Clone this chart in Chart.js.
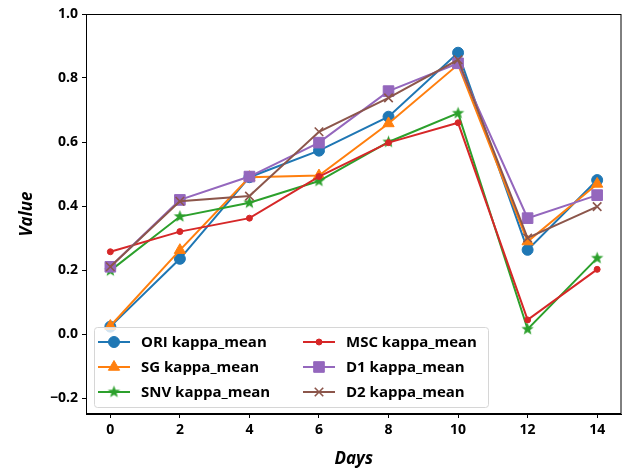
<!DOCTYPE html>
<html>
<head>
<meta charset="utf-8">
<script src="https://cdn.jsdelivr.net/npm/chart.js@4.4.1/dist/chart.umd.min.js"></script>
<style>
  html, body { margin: 0; padding: 0; background: #fff; }
  #wrap { width: 630px; height: 472px; }
</style>
</head>
<body>
<div id="wrap"><canvas id="myChart" width="630" height="472"></canvas></div>
<script>
// data
const DAYS = [0, 2, 4, 6, 8, 10, 12, 14];
const X_TICKS = [0, 2, 4, 6, 8, 10, 12, 14];
const Y_TICKS = [-0.2, 0, 0.2, 0.4, 0.6, 0.8, 1.0];
const SERIES_NAMES = ['ORI kappa_mean', 'SG kappa_mean', 'SNV kappa_mean', 'MSC kappa_mean', 'D1 kappa_mean', 'D2 kappa_mean'];
const ORI = [0.023, 0.235, 0.49, 0.573, 0.679, 0.879, 0.263, 0.481];
const SG = [0.025, 0.262, 0.49, 0.495, 0.658, 0.842, 0.289, 0.469];
const SNV = [0.198, 0.367, 0.41, 0.478, 0.6, 0.69, 0.015, 0.237];
const MSC = [0.257, 0.32, 0.362, 0.492, 0.598, 0.66, 0.044, 0.202];
const D1 = [0.21, 0.419, 0.492, 0.598, 0.759, 0.846, 0.362, 0.434];
const D2 = [0.21, 0.415, 0.431, 0.632, 0.738, 0.857, 0.3, 0.398];

const COLORS = ['#1f77b4', '#ff7f0e', '#2ca02c', '#d62728', '#9467bd', '#8c564b'];
const FONT = '"Open Sans", "DejaVu Sans", sans-serif';

// filled star marker like matplotlib '*'
function makeStar(color, r) {
  const c = document.createElement('canvas');
  const s = Math.ceil(r * 2 + 2);
  c.width = s; c.height = s;
  const g = c.getContext('2d');
  g.beginPath();
  for (let i = 0; i < 10; i++) {
    const rad = i % 2 === 0 ? r : r * 0.42;
    const a = -Math.PI / 2 + i * Math.PI / 5;
    const px = s / 2 + rad * Math.cos(a);
    const py = s / 2 + rad * Math.sin(a);
    if (i === 0) g.moveTo(px, py); else g.lineTo(px, py);
  }
  g.closePath();
  g.fillStyle = color;
  g.fill();
  return c;
}
const STAR = makeStar(COLORS[2], 6.5);

const MARKERS = [
  { pointStyle: 'circle', radius: 5.5, borderWidth: 1 },
  { pointStyle: 'triangle', radius: 6.5, borderWidth: 1 },
  { pointStyle: STAR, radius: 6.5, borderWidth: 0 },
  { pointStyle: 'circle', radius: 3, borderWidth: 1 },
  { pointStyle: 'rect', radius: 7.5, borderWidth: 1 },
  { pointStyle: 'crossRot', radius: 6, borderWidth: 1.6 }
];

const VALUES = [ORI, SG, SNV, MSC, D1, D2];
const DATASETS = VALUES.map((vals, i) => ({
  label: SERIES_NAMES[i],
  data: vals.map((v, j) => ({ x: DAYS[j], y: v })),
  borderColor: COLORS[i],
  backgroundColor: COLORS[i],
  borderWidth: 2,
  pointStyle: MARKERS[i].pointStyle,
  pointRadius: MARKERS[i].radius,
  pointBorderWidth: MARKERS[i].borderWidth,
  pointBackgroundColor: COLORS[i],
  pointBorderColor: COLORS[i],
  tension: 0,
  order: 5 - i // later series on top, like matplotlib
}));

// box around the plot + legend inside the axes
const FRAME_AND_LEGEND = {
  id: 'frameAndLegend',
  afterDraw(chart) {
    const { ctx, chartArea } = chart;
    ctx.save();
    ctx.strokeStyle = '#000';
    ctx.lineWidth = 1;
    ctx.strokeRect(chartArea.left + 0.5, chartArea.top + 0.5, chartArea.right - chartArea.left - 1, chartArea.bottom - chartArea.top - 1);

    // legend
    const BOX_X = 94, BOX_Y = 327, BOX_W = 394, BOX_H = 80;
    ctx.fillStyle = 'rgba(255,255,255,0.8)';
    ctx.strokeStyle = '#d6d6d6';
    ctx.lineWidth = 1;
    ctx.beginPath();
    ctx.roundRect(BOX_X + 0.5, BOX_Y + 0.5, BOX_W, BOX_H, 3);
    ctx.fill();
    ctx.stroke();

    const COL_X = [98, 303];
    const ROW_Y = [342, 367, 392];
    ctx.font = `bold 15px ${FONT}`;
    ctx.textBaseline = 'middle';
    ctx.textAlign = 'left';
    DATASETS.forEach((ds, i) => {
      const col = Math.floor(i / 3);
      const row = i % 3;
      const x0 = COL_X[col];
      const y0 = ROW_Y[row];
      ctx.strokeStyle = ds.borderColor;
      ctx.lineWidth = 2;
      ctx.beginPath();
      ctx.moveTo(x0, y0);
      ctx.lineTo(x0 + 32, y0);
      ctx.stroke();
      ctx.fillStyle = ds.borderColor;
      ctx.lineWidth = MARKERS[i].borderWidth || 1;
      Chart.helpers.drawPoint(ctx, {
        pointStyle: MARKERS[i].pointStyle,
        radius: MARKERS[i].radius,
        rotation: 0,
        borderWidth: MARKERS[i].borderWidth
      }, x0 + 16, y0);
      ctx.fillStyle = '#000';
      ctx.fillText(ds.label, x0 + 43, y0 + 1);
    });
    ctx.restore();
  }
};

const CONFIG = {
  type: 'line',
  data: { datasets: DATASETS },
  options: {
    responsive: false,
    animation: false,
    layout: { padding: { top: 14, right: 7, left: 0, bottom: 0 } },
    plugins: {
      legend: { display: false },
      tooltip: { enabled: false }
    },
    scales: {
      x: {
        type: 'linear',
        min: -0.7,
        max: 14.7,
        afterBuildTicks(scale) { scale.ticks = X_TICKS.map(v => ({ value: v })); },
        afterFit(scale) { scale.height = 58; },
        grid: { drawOnChartArea: false, drawTicks: true, tickLength: 4, tickColor: '#000' },
        border: { display: true, color: '#000', width: 1 },
        ticks: { color: '#000', font: { family: FONT, size: 14, weight: 'bold' }, padding: 4, maxRotation: 0 },
        title: { display: true, text: 'Days', color: '#000', font: { family: FONT, size: 17, weight: 'bold', style: 'italic' }, padding: { top: 2, bottom: 3 } }
      },
      y: {
        min: -0.25,
        max: 1.0,
        afterBuildTicks(scale) { scale.ticks = Y_TICKS.map(v => ({ value: v })); },
        afterFit(scale) { scale.width = 86; },
        grid: { drawOnChartArea: false, drawTicks: true, tickLength: 4, tickColor: '#000' },
        border: { display: true, color: '#000', width: 1 },
        ticks: {
          color: '#000',
          font: { family: FONT, size: 14, weight: 'bold' },
          padding: 4,
          callback: v => (v < 0 ? '\u2212' : '') + Math.abs(v).toFixed(1)
        },
        title: { display: true, text: 'Value', color: '#000', font: { family: FONT, size: 17, weight: 'bold', style: 'italic' }, padding: { top: 17, bottom: 0 } }
      }
    }
  },
  plugins: [FRAME_AND_LEGEND]
};

const MY_CHART = new Chart(document.getElementById('myChart'), CONFIG);
</script>
</body>
</html>
